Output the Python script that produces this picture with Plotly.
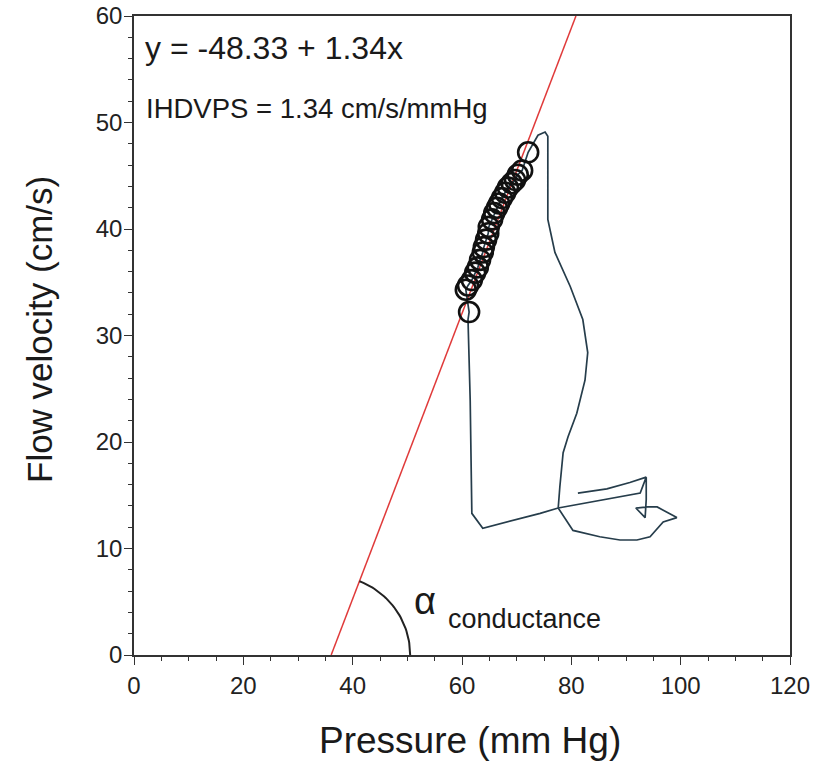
import numpy as np
import plotly.graph_objects as go

# ---------------- data ----------------
fit_intercept = -48.33
fit_slope = 1.34

# pressure-velocity loop (mm Hg, cm/s)
loop_pressure = [81.2, 86.5, 90.7, 93.7, 92.6, 77.6, 74.3, 63.8, 61.8, 61.5, 61.1,
                 61.3, 60.7, 61.1, 61.8, 62.4, 62.9, 63.3, 63.8, 64.0, 64.4, 64.8, 64.9,
                 65.5, 65.9, 66.4, 66.8, 67.3, 67.9, 68.4, 69.1, 69.7, 70.2, 71.0, 72.1,
                 73.9, 75.2, 75.7, 75.7, 75.7, 77.0, 79.8, 82.1, 83.0, 82.5, 81.0, 79.4,
                 78.5, 77.9, 77.6, 80.3, 85.2, 88.9, 92.0, 94.4, 96.8, 99.3, 95.7, 94.0,
                 91.8, 93.5, 93.7, 93.7]
loop_velocity = [15.2, 15.6, 16.2, 16.7, 15.2, 13.8, 13.3, 11.9, 13.3, 23.9, 31.5,
                 32.2, 34.3, 34.7, 35.2, 35.9, 36.4, 37.1, 37.8, 38.3, 39.0, 39.6, 40.2,
                 40.9, 41.5, 42.0, 42.4, 42.9, 43.4, 43.9, 44.3, 44.6, 45.1, 45.5, 47.2,
                 48.8, 49.1, 48.7, 45.5, 40.9, 37.8, 34.6, 31.5, 28.4, 25.8, 22.7, 20.5,
                 19.0, 15.8, 13.8, 11.7, 11.1, 10.8, 10.8, 11.1, 12.5, 12.9, 13.9, 13.9,
                 13.8, 12.9, 14.6, 16.7]

# wave-free period samples used for the fit
circle_pressure = [61.3, 60.7, 61.1, 61.8, 62.4, 62.9, 63.3, 63.8, 64.0, 64.4, 64.8,
                   64.9, 65.5, 65.9, 66.4, 66.8, 67.3, 67.9, 68.4, 69.1, 69.7, 70.2,
                   71.0, 72.1]
circle_velocity = [32.2, 34.3, 34.7, 35.2, 35.9, 36.4, 37.1, 37.8, 38.3, 39.0, 39.6,
                   40.2, 40.9, 41.5, 42.0, 42.4, 42.9, 43.4, 43.9, 44.3, 44.6, 45.1,
                   45.5, 47.2]

x_ticks = [0, 20, 40, 60, 80, 100, 120]
y_ticks = [0, 10, 20, 30, 40, 50, 60]
x_range = [0, 120]
y_range = [0, 60]

eq_text = "y = -48.33 + 1.34x"
slope_text = "IHDVPS = 1.34 cm/s/mmHg"

# ---------------- layout geometry ----------------
W, H = 823, 761
ML, MR, MT, MB = 134, 33, 16, 106
pw, ph = W - ML - MR, H - MT - MB
px_x = pw / (x_range[1] - x_range[0])
px_y = ph / (y_range[1] - y_range[0])

FONT = "Arial, Liberation Sans, sans-serif"
AX = "#333333"

fig = go.Figure()

# regression line from y=0 to y=60
x0 = (y_range[0] - fit_intercept) / fit_slope
x1 = (y_range[1] - fit_intercept) / fit_slope
fig.add_trace(go.Scatter(x=[x0, x1], y=[fit_intercept + fit_slope * x0, fit_intercept + fit_slope * x1],
                         mode="lines", line=dict(color="#e03a3a", width=1.5),
                         hoverinfo="skip", showlegend=False))

# loop
fig.add_trace(go.Scatter(x=loop_pressure, y=loop_velocity, mode="lines",
                         line=dict(color="#263d4b", width=1.7), showlegend=False))

# circles
fig.add_trace(go.Scatter(x=circle_pressure, y=circle_velocity, mode="markers",
                         marker=dict(symbol="circle-open", size=20,
                                     line=dict(color="#111111", width=2.6), color="#111111"),
                         showlegend=False))

# angle arc (radius in pixels)
arc_r = 79
theta_line = np.arctan(fit_slope * px_y / px_x)
th = np.linspace(0, theta_line, 40)
fig.add_trace(go.Scatter(x=x0 + arc_r * np.cos(th) / px_x, y=arc_r * np.sin(th) / px_y,
                         mode="lines", line=dict(color="#222222", width=2),
                         hoverinfo="skip", showlegend=False))

annos = [
    dict(x=(143 - ML) / px_x, y=(655 - 48) / px_y, text=eq_text, size=32),
    dict(x=(144 - ML) / px_x, y=(655 - 108) / px_y, text=slope_text, size=27.5),
    dict(x=(412 - ML) / px_x, y=(655 - 601) / px_y, text="α", size=38),
    dict(x=(446 - ML) / px_x, y=(655 - 619) / px_y, text="conductance", size=27),
]
for a in annos:
    fig.add_annotation(xref="x", yref="y", x=a["x"], y=a["y"], text=a["text"],
                       showarrow=False, xanchor="left", yanchor="middle",
                       font=dict(family=FONT, color="#1a1a1a", size=a["size"]))

# axis titles
fig.add_annotation(xref="paper", yref="paper", x=(470 - ML) / pw, y=(655 - 740) / ph,
                   text="Pressure (mm Hg)", showarrow=False, xanchor="center", yanchor="middle",
                   font=dict(family=FONT, size=37, color="#1a1a1a"))
fig.add_annotation(xref="paper", yref="paper", x=(39 - ML) / pw, y=(655 - 330) / ph,
                   text="Flow velocity (cm/s)", showarrow=False, xanchor="center", yanchor="middle",
                   textangle=-90, font=dict(family=FONT, size=35, color="#1a1a1a"))

axis_common = dict(showline=True, linecolor=AX, linewidth=1.5, mirror=True,
                   ticks="outside", ticklen=8, tickwidth=1.3, tickcolor=AX,
                   showgrid=False, zeroline=False, automargin=False,
                   tickfont=dict(family=FONT, size=24, color="#222222"))

fig.update_xaxes(range=x_range, tickvals=x_ticks, ticktext=[str(v) for v in x_ticks],
                 minor=dict(dtick=5, ticks="outside", ticklen=4, tickcolor=AX, tickwidth=1.2),
                 **axis_common)
fig.update_yaxes(range=y_range, tickvals=y_ticks, ticktext=[str(v) for v in y_ticks],
                 minor=dict(dtick=2, ticks="outside", ticklen=4, tickcolor=AX, tickwidth=1.2),
                 ticklabelstandoff=-3, **axis_common)

fig.update_layout(width=W, height=H, margin=dict(l=ML, r=MR, t=MT, b=MB, autoexpand=False),
                  paper_bgcolor="white", plot_bgcolor="white",
                  font=dict(family=FONT), showlegend=False)

fig.write_html("out.html")
